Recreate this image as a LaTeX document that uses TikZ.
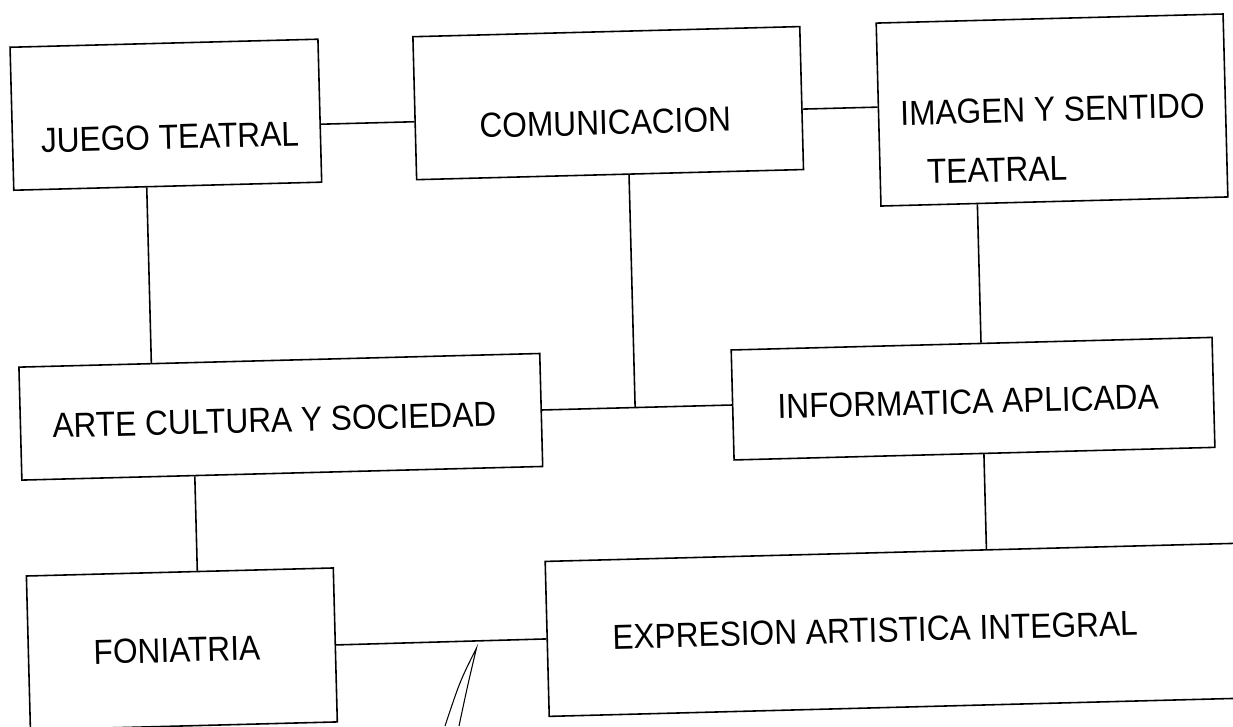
\documentclass[tikz,border=0pt]{standalone}
\usepackage{fontspec}
\setmainfont{Liberation Sans}[FakeStretch=0.91]

\begin{document}
\begin{tikzpicture}[
	box/.style={rectangle, draw, line width=0.9pt, inner sep=0pt},
	lbl/.style={inner sep=0pt, font=\fontsize{19.8}{24}\selectfont},
	link/.style={line width=0.9pt}]
	\useasboundingbox (0,0) rectangle (24.66,14.52);
	% mapa de asignaturas
	\begin{scope}[rotate around={1.5:(12.33,7.26)}, transform shape]
		\node[box, minimum width=6.16cm, minimum height=2.86cm] (JT) at (3.45,12.46) {};
		\node[box, minimum width=7.74cm, minimum height=2.86cm] (CO) at (12.30,12.46) {};
		\node[box, minimum width=6.94cm, minimum height=3.66cm] (IS) at (21.17,12.09) {};
		\node[box, minimum width=10.42cm, minimum height=2.26cm] (AC) at (5.59,6.36) {};
		\node[box, minimum width=9.62cm, minimum height=2.20cm] (IA) at (19.44,6.36) {};
		\node[box, minimum width=6.14cm, minimum height=3.08cm] (FO) at (3.49,1.77) {};
		\node[box, minimum width=15.0cm, minimum height=3.10cm] (EA) at (18.30,1.78) {};
		
		\node[lbl] (JTt) at (3.52,12.01) {JUEGO TEATRAL};
		\node[lbl] (COt) at (12.23,12.07) {COMUNICACION};
		\node[lbl] (ISt) at (21.18,12.10) {IMAGEN Y SENTIDO};
		\node[lbl] (ISt2) at (20.04,10.92) {TEATRAL};
		\node[lbl] (ACt) at (5.46,6.30) {ARTE CULTURA Y SOCIEDAD};
		\node[lbl] (IAt) at (19.34,6.30) {INFORMATICA APLICADA};
		\node[lbl] (FOt) at (3.39,1.75) {FONIATRIA};
		\node[lbl] (EAt) at (17.36,1.78) {EXPRESION ARTISTICA INTEGRAL};
		
		\coordinate (J) at (12.68,6.36);
		
		\draw[link] ([yshift=-0.27cm]JT.east) -- ([yshift=-0.27cm]CO.west);
		\draw[link] ([yshift=-0.22cm]CO.east) -- ([yshift=0.15cm]IS.west);
		\draw[link] ([xshift=-0.42cm]JT.south) -- ([xshift=-2.56cm]AC.north);
		\draw[link] ([xshift=-1.75cm]AC.south) -- ([xshift=0.35cm]FO.north);
		\draw[link] (AC.east) -- (IA.west);
		\draw[link] ([xshift=0.38cm]CO.south) -- (J);
		\draw[link] ([xshift=-1.54cm]IS.south) -- ([xshift=0.19cm]IA.north);
		\draw[link] ([xshift=0.19cm]IA.south) -- ([xshift=1.33cm]EA.north);
		\draw[link] (FO.east) -- (EA.west);
	\end{scope}
	% trazo suelto
	\draw[line width=0.6pt] (8.90,0) .. controls (9.20,0.9) .. (9.53,1.56) .. controls (9.35,0.8) .. (9.18,0);
\end{tikzpicture}
\end{document}
